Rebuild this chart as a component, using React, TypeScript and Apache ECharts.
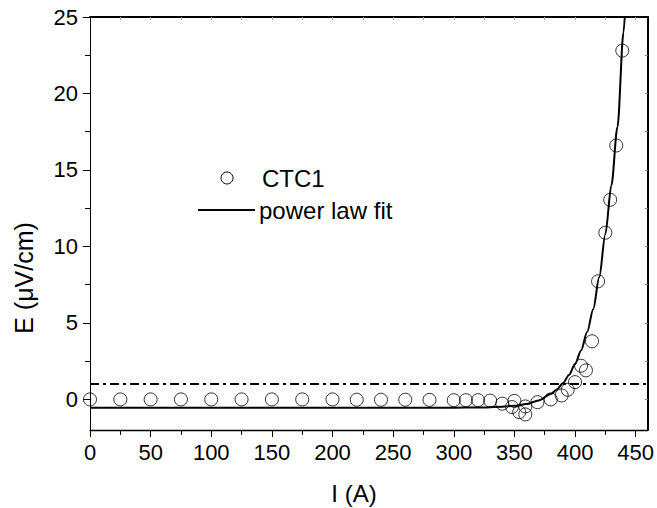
import React, { useEffect, useRef } from "react";
import * as echarts from "echarts";

const currentA = [0, 25, 50, 75, 100, 125, 150, 175, 200, 220, 240, 260, 280, 300, 310, 320, 330, 340, 348, 350, 354, 359, 359, 369, 380, 389, 394, 400, 405, 409, 414, 419, 425, 429, 434, 439];
const fieldE = [0, 0, 0, 0, 0, 0, 0, 0, 0, -0.02, -0.02, -0.02, -0.03, -0.05, -0.05, -0.05, -0.08, -0.28, -0.5, -0.1, -0.83, -0.46, -0.98, -0.18, 0, 0.26, 0.63, 1.13, 2.2, 1.9, 3.8, 7.72, 10.9, 13.05, 16.6, 22.8];

const fitI = [0, 100, 200, 300, 320, 340, 350, 360, 370, 380, 385, 390, 395, 400, 405, 410, 415, 420, 425, 430, 435, 440, 442];
const fitE = [-0.55, -0.55, -0.55, -0.54, -0.53, -0.48, -0.42, -0.3, -0.07, 0.35, 0.65, 1.05, 1.6, 2.3, 3.2, 4.4, 5.9, 8.0, 10.8, 14.0, 17.8, 24.0, 26.5];

const criterionI = [0, 460];
const criterionE = [1, 1];

const xMajorTicks = [0, 50, 100, 150, 200, 250, 300, 350, 400, 450];
const xMinorTicks = [25, 75, 125, 175, 225, 275, 325, 375, 425];
const xTopTicks = [25, 50, 75, 100, 125, 150, 175, 200, 225, 250, 275, 300, 325, 350, 375, 400, 425, 450];
const yMajorTicks = [0, 5, 10, 15, 20, 25];
const yMinorTicks = [2.5, 7.5, 12.5, 17.5, 22.5];
const yRightTicks = [0, 2.5, 5, 7.5, 10, 12.5, 15, 17.5, 20, 22.5];

const legendLabels = ["CTC1", "power law fit"];
const xTitle = "I (A)";
const yTitle = "E (\u03bcV/cm)";

const FONT = "Liberation Sans, Arial, sans-serif";

export default function App() {
  const ref = useRef<HTMLDivElement>(null);
  useEffect(() => {
    if (!ref.current) return;
    const chart = echarts.init(ref.current, null, { renderer: "svg" });
    const X_MIN = 0, X_MAX = 460, Y_MIN = -2, Y_MAX = 25;
    const blank = { show: false };
    chart.setOption({
      animation: false,
      backgroundColor: "#fff",
      textStyle: { fontFamily: FONT },
      grid: { left: 90, right: 9, top: 17, bottom: 78 },
      xAxis: [
        {
          type: "value", position: "bottom", min: X_MIN, max: X_MAX,
          axisLine: { show: true, onZero: false, lineStyle: { color: "#000", width: 1.3 } },
          axisTick: { show: true, inside: false, length: 7, customValues: xMajorTicks, lineStyle: { color: "#000", width: 1 } },
          axisLabel: { show: true, customValues: xMajorTicks, fontSize: 22, color: "#000", margin: 11, fontFamily: FONT },
          splitLine: blank,
        },
        {
          type: "value", position: "bottom", min: X_MIN, max: X_MAX,
          axisLine: { show: false, onZero: false },
          axisTick: { show: true, inside: false, length: 5, customValues: xMinorTicks, lineStyle: { color: "#000", width: 1 } },
          axisLabel: blank, splitLine: blank,
        },
        {
          type: "value", position: "top", min: X_MIN, max: X_MAX,
          axisLine: { show: true, onZero: false, lineStyle: { color: "#000", width: 2 } },
          axisTick: { show: true, inside: true, length: 3, customValues: xTopTicks, lineStyle: { color: "#aaa", width: 1 } },
          axisLabel: blank, splitLine: blank,
        },
      ],
      yAxis: [
        {
          type: "value", position: "left", min: Y_MIN, max: Y_MAX,
          axisLine: { show: true, onZero: false, lineStyle: { color: "#000", width: 1 } },
          axisTick: { show: true, inside: false, length: 7, customValues: yMajorTicks, lineStyle: { color: "#000", width: 1 } },
          axisLabel: { show: true, customValues: yMajorTicks, fontSize: 22, color: "#000", margin: 12, fontFamily: FONT },
          splitLine: blank,
        },
        {
          type: "value", position: "left", min: Y_MIN, max: Y_MAX,
          axisLine: { show: false, onZero: false },
          axisTick: { show: true, inside: false, length: 5, customValues: yMinorTicks, lineStyle: { color: "#000", width: 1 } },
          axisLabel: blank, splitLine: blank,
        },
        {
          type: "value", position: "right", min: Y_MIN, max: Y_MAX,
          axisLine: { show: true, onZero: false, lineStyle: { color: "#000", width: 2 } },
          axisTick: { show: true, inside: true, length: 3, customValues: yRightTicks, lineStyle: { color: "#888", width: 1 } },
          axisLabel: blank, splitLine: blank,
        },
      ],
      series: [
        {
          name: "criterion", type: "line", xAxisIndex: 0, yAxisIndex: 0,
          data: criterionI.map((v, i) => [v, criterionE[i]]),
          symbol: "none", silent: true,
          lineStyle: { color: "#000", width: 2, type: [9, 4, 3, 4] },
        },
        {
          name: legendLabels[1], type: "line", xAxisIndex: 0, yAxisIndex: 0,
          data: fitI.map((v, i) => [v, fitE[i]]),
          symbol: "none", smooth: 0.3, smoothMonotone: "x", clip: true,
          lineStyle: { color: "#000", width: 2 },
        },
        {
          name: legendLabels[0], type: "scatter", xAxisIndex: 0, yAxisIndex: 0,
          data: currentA.map((v, i) => [v, fieldE[i]]),
          symbol: "circle", symbolSize: 13, clip: true,
          itemStyle: { color: "rgba(0,0,0,0)", borderColor: "#000", borderWidth: 1 },
        },
      ],
      graphic: [
        { type: "circle", shape: { cx: 227, cy: 178, r: 6 }, style: { fill: "none", stroke: "#000", lineWidth: 1 } },
        { type: "text", x: 262, y: 178, style: { text: legendLabels[0], font: `24px ${FONT}`, fill: "#000", textVerticalAlign: "middle", textAlign: "left" } },
        { type: "line", shape: { x1: 198, y1: 210, x2: 255, y2: 210 }, style: { stroke: "#000", lineWidth: 2 } },
        { type: "text", x: 259, y: 210, style: { text: legendLabels[1], font: `24px ${FONT}`, fill: "#000", textVerticalAlign: "middle", textAlign: "left" } },
        { type: "text", x: 354, y: 493, style: { text: xTitle, font: `24px ${FONT}`, fill: "#000", textVerticalAlign: "middle", textAlign: "center" } },
        { type: "text", x: 24, y: 278, rotation: Math.PI / 2, style: { text: yTitle, font: `25px ${FONT}`, fill: "#000", textVerticalAlign: "middle", textAlign: "center" } },
      ],
    });
    return () => chart.dispose();
  }, []);
  return (
    <div
      ref={ref}
      style={{ position: "fixed", left: 0, top: 0, width: 657, height: 508 }}
    />
  );
}
